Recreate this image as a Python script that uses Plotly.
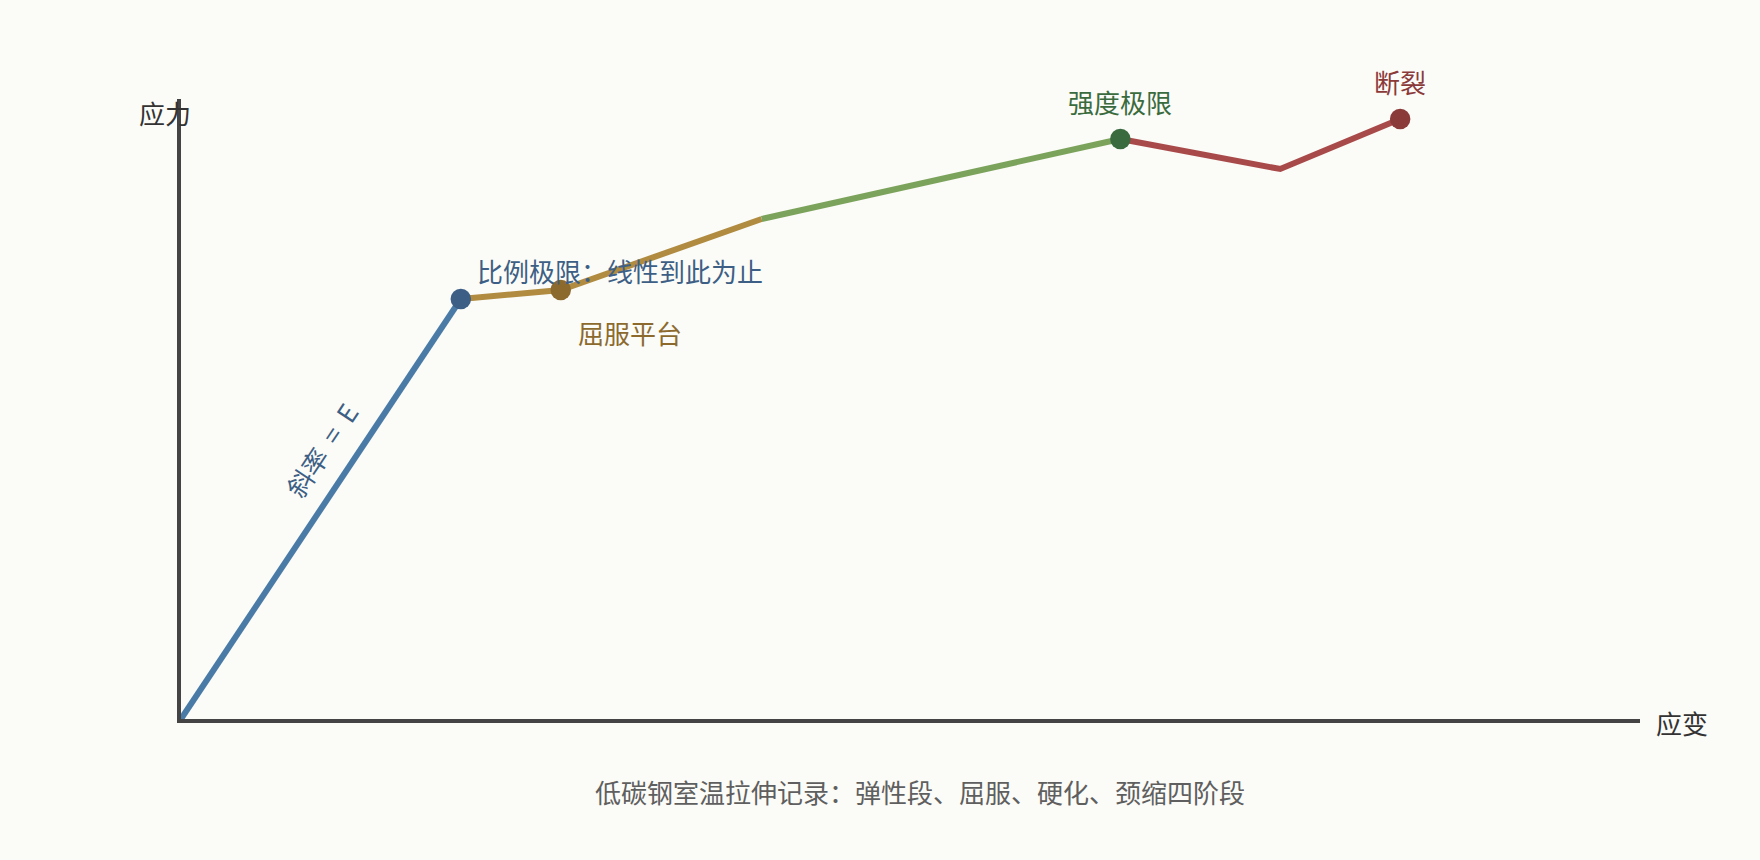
import math
import plotly.graph_objects as go

# ---- data ----
strain = [0, 14, 19, 29.05, 47, 55, 61]
stress = [0, 210, 214.5, 250, 290, 275, 300]

stage_names = ["弹性段", "屈服", "硬化", "颈缩"]
stage_idx = [[0, 1], [1, 2, 3], [3, 4], [4, 5, 6]]
stage_colors = ["#4a7ba7", "#b08b40", "#7ba35b", "#a84a4a"]

key_idx = [1, 2, 4, 6]
key_labels = ["比例极限：线性到此为止", "屈服平台", "强度极限", "断裂"]
key_colors = ["#3d5f85", "#8c6a2e", "#3a6b3e", "#8b3a3a"]

x_label = "应变"
y_label = "应力"
slope_label = "斜率\u00a0\u00a0=\u00a0\u00a0E"
subtitle = "低碳钢室温拉伸记录：弹性段、屈服、硬化、颈缩四阶段"

x_range = [0, 73]
y_range = [0, 310]

FONT = "Noto Sans CJK SC"
BG = "#fbfbf7"
W, H = 1760, 860
ML, MR, MT, MB = 181, 120, 99, 141
PW, PH = W - ML - MR, H - MT - MB

fig = go.Figure()
for name, idx, col in zip(stage_names, stage_idx, stage_colors):
    fig.add_trace(go.Scatter(
        x=[strain[i] for i in idx], y=[stress[i] for i in idx],
        mode="lines", name=name, line=dict(color=col, width=6),
        cliponaxis=False, showlegend=False, hoverinfo="skip"))

fig.add_trace(go.Scatter(
    x=[strain[i] for i in key_idx], y=[stress[i] for i in key_idx],
    mode="markers", marker=dict(size=20.5, color=key_colors, line=dict(width=0)),
    cliponaxis=False, showlegend=False, hoverinfo="skip"))

# labels at key points: (xshift, yshift)
shifts = [(159, 29), (69, -42), (0, 38), (0, 38)]
for i, lab, col, (dx, dy) in zip(key_idx, key_labels, key_colors, shifts):
    fig.add_annotation(x=strain[i], y=stress[i], text=lab, showarrow=False,
                       xshift=dx, yshift=dy, xanchor="center", yanchor="middle",
                       font=dict(family=FONT, size=26, color=col))

# slope label along elastic segment
sx = PW / (x_range[1] - x_range[0])
sy = PH / (y_range[1] - y_range[0])
ang = math.degrees(math.atan2((stress[1] - stress[0]) * sy, (strain[1] - strain[0]) * sx))
fig.add_annotation(x=(strain[0] + strain[1]) / 2, y=(stress[0] + stress[1]) / 2,
                   text=slope_label, showarrow=False, textangle=-ang,
                   xshift=0, yshift=60, xanchor="center", yanchor="middle",
                   font=dict(family=FONT, size=26, color="#3d5f85"))

# axis titles and subtitle
fig.add_annotation(xref="paper", yref="paper", x=(165 - ML) / PW, y=(H - MB - 112) / PH,
                   text=y_label, showarrow=False, xanchor="center", yanchor="middle",
                   font=dict(family=FONT, size=26, color="#333333"))
fig.add_annotation(xref="paper", yref="paper", x=(1682 - ML) / PW, y=(H - MB - 722) / PH,
                   text=x_label, showarrow=False, xanchor="center", yanchor="middle",
                   font=dict(family=FONT, size=26, color="#333333"))
fig.add_annotation(xref="paper", yref="paper", x=(920 - ML) / PW, y=(H - MB - 791) / PH,
                   text=subtitle, showarrow=False, xanchor="center", yanchor="middle",
                   font=dict(family=FONT, size=26, color="#5f5f5f"))

axis_common = dict(showgrid=False, zeroline=False, showticklabels=False, ticks="",
                   showline=True, linecolor="#444444", linewidth=4, fixedrange=True)
fig.update_xaxes(range=x_range, **axis_common)
fig.update_yaxes(range=y_range, **axis_common)

fig.update_layout(
    width=W, height=H, autosize=False,
    margin=dict(l=ML, r=MR, t=MT, b=MB, pad=0),
    paper_bgcolor=BG, plot_bgcolor=BG,
    font=dict(family=FONT, color="#333333"),
    showlegend=False,
)

fig.write_html("out.html", config={"displayModeBar": False},
               post_script="document.body.style.margin='0';document.body.style.overflow='hidden';document.body.style.background='%s';" % BG)
